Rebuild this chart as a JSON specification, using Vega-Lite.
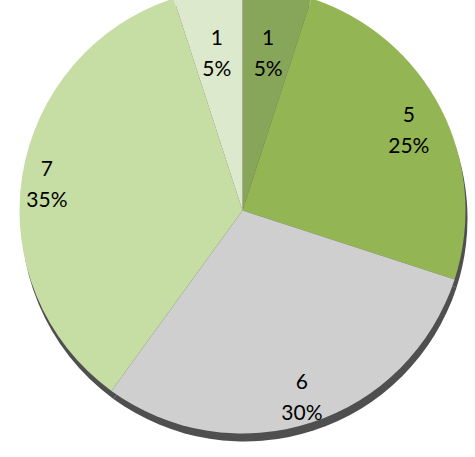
{
  "$schema": "https://vega.github.io/schema/vega-lite/v6.json",
  "width": 475,
  "height": 457,
  "autosize": {"type": "fit", "contains": "padding"},
  "padding": {"left": 10, "top": 0, "right": 0, "bottom": 33},
  "background": "white",
  "view": {"stroke": null},
  "data": {
    "values": [
      {"slice": "a", "order": 1, "value": 1, "label": "1\n5%"},
      {"slice": "b", "order": 2, "value": 5, "label": "5\n25%"},
      {"slice": "c", "order": 3, "value": 6, "label": "6\n30%"},
      {"slice": "d", "order": 4, "value": 7, "label": "7\n35%"},
      {"slice": "e", "order": 5, "value": 1, "label": "1\n5%"}
    ]
  },
  "encoding": {
    "theta": {"field": "value", "type": "quantitative", "stack": true},
    "order": {"field": "order", "type": "quantitative"}
  },
  "layer": [
    {
      "mark": {"type": "arc", "radius": 223, "yOffset": 8, "xOffset": 2, "color": "#4f4f4f"}
    },
    {
      "mark": {"type": "arc", "radius": 223},
      "encoding": {
        "color": {
          "field": "slice",
          "type": "nominal",
          "scale": {
            "domain": ["a", "b", "c", "d", "e"],
            "range": ["#88a65a", "#93b553", "#cfcfcf", "#c6dea3", "#dde9cc"]
          },
          "legend": null
        }
      }
    },
    {
      "mark": {"type": "text", "font": "Lato", "fontSize": 21, "lineBreak": "\n", "lineHeight": 31, "dy": -10, "color": "#000000", "baseline": "middle", "align": "center"},
      "encoding": {
        "text": {"field": "label", "type": "nominal"},
        "radius": {"field": "value", "type": "quantitative", "scale": {"type": "linear", "domain": [1, 7], "range": [164, 198], "zero": false}}
      }
    }
  ]
}
